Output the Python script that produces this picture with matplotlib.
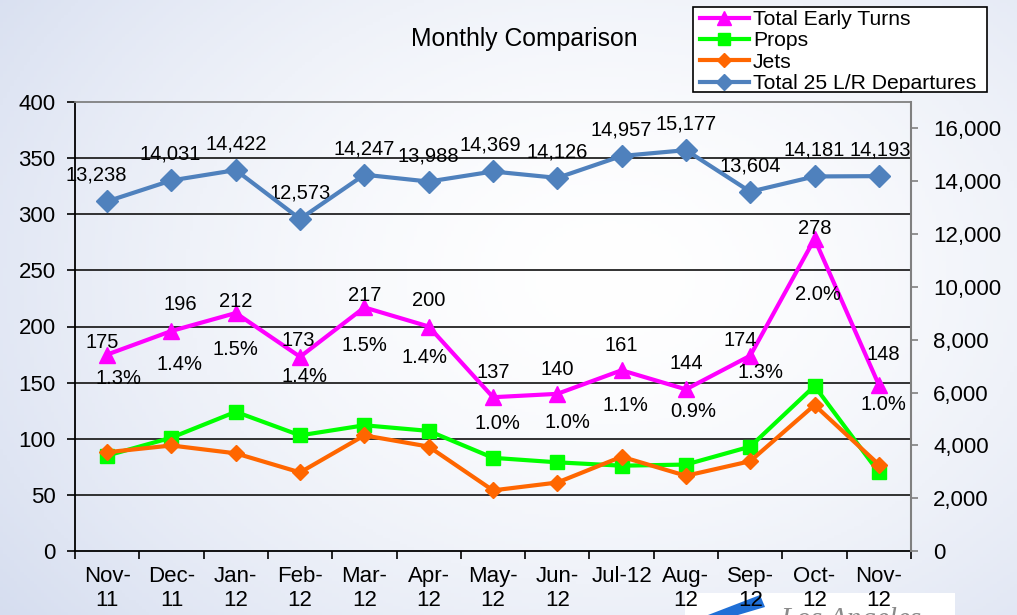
#!/usr/bin/env python3
''' monthly comparison of early turns, props, jets and departures '''
import numpy as np
import matplotlib.pyplot as plt
from matplotlib.lines import Line2D
from matplotlib.patches import Rectangle, Polygon

plt.rcParams['font.family'] = ['Liberation Sans', 'DejaVu Sans']

months = ['Nov-\n11', 'Dec-\n11', 'Jan-\n12', 'Feb-\n12', 'Mar-\n12', 'Apr-\n12',
          'May-\n12', 'Jun-\n12', 'Jul-12', 'Aug-\n12', 'Sep-\n12', 'Oct-\n12',
          'Nov-\n12']
early_turns = [175, 196, 212, 173, 217, 200, 137, 140, 161, 144, 174, 278, 148]
props = [85, 101, 124, 103, 112, 107, 83, 79, 76, 77, 93, 147, 70]
jets = [88, 94, 87, 70, 103, 93, 54, 61, 84, 67, 80, 130, 77]
departures = [13238, 14031, 14422, 12573, 14247, 13988, 14369, 14126,
              14957, 15177, 13604, 14181, 14193]
pct_labels = ['1.3%', '1.4%', '1.5%', '1.4%', '1.5%', '1.4%', '1.0%', '1.0%',
              '1.1%', '0.9%', '1.3%', '2.0%', '1.0%']

# label placement (pixel offsets from the point)
num_dy = [12, 26, 12, 16, 12, 26, 25, 24, 25, 26, 15, 10, 30]
num_dx = [-5, 9, 0, -2, 0, 0, 0, 0, 0, 0, -10, 0, 4]
pct_dy = [-24, -34, -36, -20, -38, -31, -26, -29, -35, -22, -17, -56, -20]
pct_dx = [11, 8, 0, 4, 0, -4, 4, 10, 4, 7, 10, 3, 5]
dep_dx = [-11, -1, 0, 0, 0, 0, -3, 0, 0, 0, 0, 0, 1]

MAGENTA = '#FF00FF'
GREEN = '#00FF00'
ORANGE = '#FF6600'
BLUE = '#4F81BD'
TICK_FS = 16
LABEL_FS = 14.5

fig = plt.figure(figsize=(10.17, 6.15), dpi=100)

# soft blue-white background gradient
bg = fig.add_axes([0, 0, 1, 1], zorder=-10)
gx, gy = np.meshgrid(np.linspace(0, 1, 300), np.linspace(0, 1, 200))
d = np.sqrt(((gx - 0.6) / 0.75) ** 2 + ((gy - 0.55) / 0.9) ** 2)
t = np.clip(d, 0, 1) ** 1.6
c0 = np.array([1.0, 1.0, 1.0])
c1 = np.array([0.84, 0.87, 0.94])
img = c0 + (c1 - c0) * t[..., None]
bg.imshow(img, extent=[0, 1, 0, 1], aspect='auto', origin='lower')
bg.axis('off')

ax = fig.add_axes([75 / 1017, 64 / 615, 836 / 1017, 449 / 615])
ax.patch.set_visible(False)
x = np.arange(len(months))

ax.set_ylim(0, 400)
ax.set_yticks(np.arange(0, 401, 50))
ax.set_xlim(-0.5, len(months) - 0.5)
ax.set_xticks(x)
ax.set_xticklabels(months, fontsize=TICK_FS, linespacing=1.2)
ax.set_xticks(np.arange(-0.5, len(months), 1), minor=True)
ax.tick_params(axis='x', which='major', length=0, pad=11)
ax.tick_params(axis='x', which='minor', length=6, width=1.2, color='black')
ax.tick_params(axis='y', labelsize=TICK_FS, length=6, width=1.2,
               color='black', pad=8)
for y in np.arange(50, 400, 50):
    ax.axhline(y, color='#222222', lw=1.3, zorder=1)
ax.spines['left'].set_color('black')
ax.spines['left'].set_linewidth(1.3)
ax.spines['bottom'].set_color('black')
ax.spines['bottom'].set_linewidth(1.3)
ax.spines['top'].set_color('#808080')
ax.spines['top'].set_linewidth(1.3)
ax.spines['right'].set_visible(False)

ax.plot(x, early_turns, color=MAGENTA, lw=3, marker='^', ms=11, zorder=4)
ax.plot(x, props, color=GREEN, lw=3, marker='s', ms=10, zorder=3)
ax.plot(x, jets, color=ORANGE, lw=3, marker='D', ms=8, zorder=3.5)

for i in range(len(months)):
    ax.annotate(str(early_turns[i]), (x[i], early_turns[i]),
                xytext=(num_dx[i], num_dy[i]), textcoords='offset pixels',
                ha='center', va='center', fontsize=LABEL_FS, zorder=6)
    ax.annotate(pct_labels[i], (x[i], early_turns[i]),
                xytext=(pct_dx[i], pct_dy[i]), textcoords='offset pixels',
                ha='center', va='center', fontsize=LABEL_FS, zorder=6)

ax2 = ax.twinx()
ax2.patch.set_visible(False)
ax2.set_ylim(0, 17000)
ax2.set_yticks(np.arange(0, 16001, 2000))
ax2.set_yticklabels([f'{v:,}' for v in range(0, 16001, 2000)],
                    fontsize=TICK_FS)
ax2.tick_params(axis='y', length=5, width=1.2, color='#808080', pad=11)
for s in ['left', 'top', 'bottom']:
    ax2.spines[s].set_visible(False)
ax2.spines['right'].set_color('#808080')
ax2.spines['right'].set_linewidth(1.5)
ax2.plot(x, departures, color=BLUE, lw=3, marker='D', ms=11, zorder=4)
for i in range(len(months)):
    ax2.annotate(f'{departures[i]:,}', (x[i], departures[i]),
                 xytext=(dep_dx[i], 26), textcoords='offset pixels',
                 ha='center', va='center', fontsize=LABEL_FS)

fig.text(524 / 1017, 1 - 39 / 615, 'Monthly Comparison', ha='center',
         va='center', fontsize=17.8)

# legend box drawn separately so its padding can match the original
fig.patches.append(Rectangle((693 / 1017, 1 - 92 / 615), 294 / 1017,
                             85 / 615, transform=fig.transFigure,
                             facecolor='white', edgecolor='black', lw=1.2,
                             zorder=5))
handles = [
    Line2D([], [], color=MAGENTA, lw=3, marker='^', ms=10),
    Line2D([], [], color=GREEN, lw=3, marker='s', ms=9),
    Line2D([], [], color=ORANGE, lw=3, marker='D', ms=7),
    Line2D([], [], color=BLUE, lw=3, marker='D', ms=8),
]
names = ['Total Early Turns', 'Props', 'Jets', 'Total 25 L/R Departures']
leg = fig.legend(handles, names, loc='upper left',
                 bbox_to_anchor=(700 / 1017, 1 - 10 / 615),
                 fontsize=15.2, frameon=False,
                 handlelength=2.3, handletextpad=0.2, labelspacing=0.11,
                 borderpad=0.0, borderaxespad=0)
leg.set_zorder(6)

# partial logo at the bottom edge, underneath the tick labels
fig.patches.append(Rectangle((685 / 1017, 0), 270 / 1017, 22 / 615,
                             transform=fig.transFigure, facecolor='white',
                             edgecolor='none', zorder=-2))
fig.patches.append(Polygon([(708 / 1017, 0), (760 / 1017, 20 / 615),
                            (765 / 1017, 8 / 615), (738 / 1017, 0)],
                           transform=fig.transFigure, facecolor='#1F6FD6',
                           edgecolor='none', zorder=-1))
fig.text(780 / 1017, -12 / 615, 'Los Angeles', fontsize=21, style='italic',
         family='Liberation Serif', color='#8a8a8a', ha='left',
         va='baseline', zorder=-1)

fig.savefig('out.png', dpi=100)
